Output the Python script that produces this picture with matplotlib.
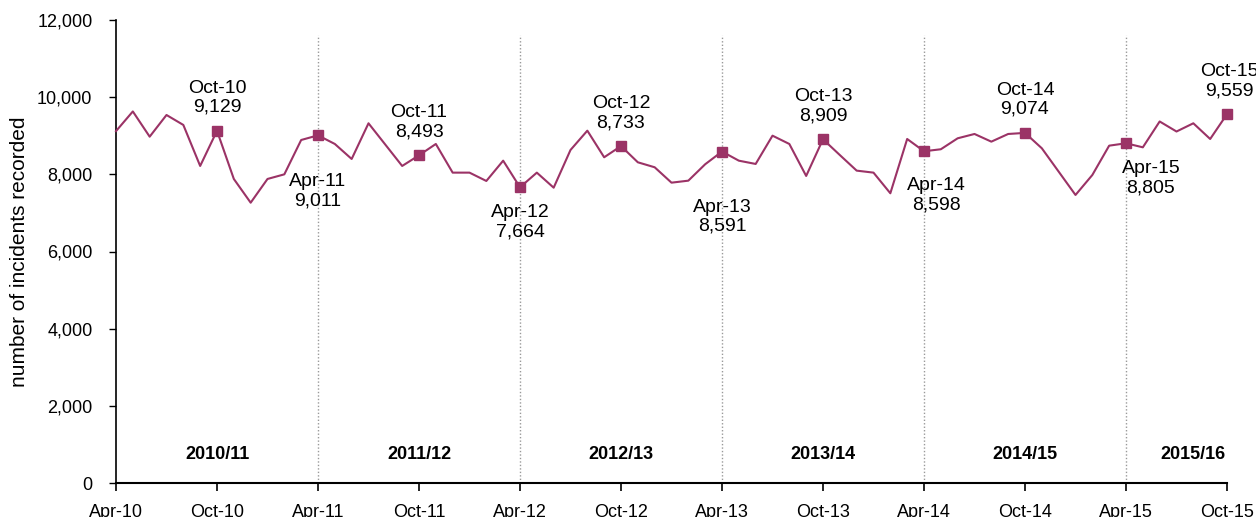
import matplotlib
matplotlib.use('Agg')
import matplotlib.pyplot as plt
from matplotlib.ticker import FuncFormatter

# monthly incidents recorded, Apr-10 .. Oct-15
incidents = [
    9120, 9630, 8976, 9538, 9280, 8217, 9129, 7880, 7265,              # Apr-Dec 2010
    7880, 8000, 8890, 9011, 8787, 8398, 9323, 8770, 8217, 8493, 8787, 8044,  # 2011
    8044, 7828, 8354, 7664, 8044, 7654, 8631, 9132, 8442, 8733, 8312, 8183,  # 2012
    7784, 7836, 8261, 8591, 8354, 8269, 9002, 8787, 7958, 8909, 8500, 8096,  # 2013
    8044, 7509, 8916, 8598, 8650, 8934, 9046, 8847, 9046, 9074, 8675, 8070,  # 2014
    7465, 7983, 8743, 8805, 8700, 9370, 9110, 9323, 8916, 9559,             # Jan-Oct 2015
]
tick_labels = ['Apr-10', 'Oct-10', 'Apr-11', 'Oct-11', 'Apr-12', 'Oct-12',
               'Apr-13', 'Oct-13', 'Apr-14', 'Oct-14', 'Apr-15', 'Oct-15']
years = ['2010/11', '2011/12', '2012/13', '2013/14', '2014/15', '2015/16']
year_pos = [6, 18, 30, 42, 54, 64]

# label offsets in pixels for the marked points (Apr/Oct)
label_offsets = {
    'Oct-10': (0, 15), 'Apr-11': (0, -38), 'Oct-11': (0, 15), 'Apr-12': (0, -17),
    'Oct-12': (0, 15), 'Apr-13': (0, -47), 'Oct-13': (0, 15), 'Apr-14': (12, -26),
    'Oct-14': (0, 15), 'Apr-15': (25, -17), 'Oct-15': (2, 15),
}

color = '#9B3366'
plt.rcParams['font.family'] = ['Liberation Sans', 'DejaVu Sans']

fig = plt.figure(figsize=(12.56, 5.17), dpi=100)
ax = fig.add_axes([116 / 1256, 1 - 483 / 517, (1227 - 116) / 1256, (483 - 20) / 517])

x = list(range(len(incidents)))
ax.plot(x, incidents, color=color, lw=1.5, clip_on=False, zorder=3)

ticks = list(range(0, len(incidents), 6))
ax.plot(ticks[1:], [incidents[t] for t in ticks[1:]], ls='none', marker='s',
        ms=7, color=color, clip_on=False, zorder=4)

for t, lab in zip(ticks, tick_labels):
    if lab not in label_offsets:
        continue
    dx, dy = label_offsets[lab]
    ax.annotate(f'{lab}\n{incidents[t]:,}', (t, incidents[t]), xytext=(dx, dy),
                textcoords='offset pixels', ha='center',
                va='bottom' if dy > 0 else 'top', fontsize=14,
                linespacing=1.15, annotation_clip=False)

# financial year separators
ax.vlines(ticks[2::2], 0, 11600, colors='#999999', linestyles=(0, (1, 1.5)), lw=1)
for xp, yr in zip(year_pos, years):
    ax.text(xp, 750, yr, ha='center', va='center', fontsize=13, fontweight='bold')

ax.set_xlim(0, 66)
ax.set_ylim(0, 12000)
ax.set_xticks(ticks)
ax.set_xticklabels(tick_labels)
ax.set_yticks(range(0, 12001, 2000))
ax.yaxis.set_major_formatter(FuncFormatter(lambda v, p: f'{int(v):,}'))
ax.tick_params(axis='x', length=6, width=1.2, pad=9, labelsize=13)
ax.tick_params(axis='y', length=5, width=1, pad=12, labelsize=13)
ax.set_ylabel('number of incidents recorded', fontsize=15, labelpad=6)
for s in ['top', 'right']:
    ax.spines[s].set_visible(False)
ax.spines['left'].set_linewidth(1.2)
ax.spines['bottom'].set_linewidth(1.5)

fig.savefig('out.png', dpi=100)
